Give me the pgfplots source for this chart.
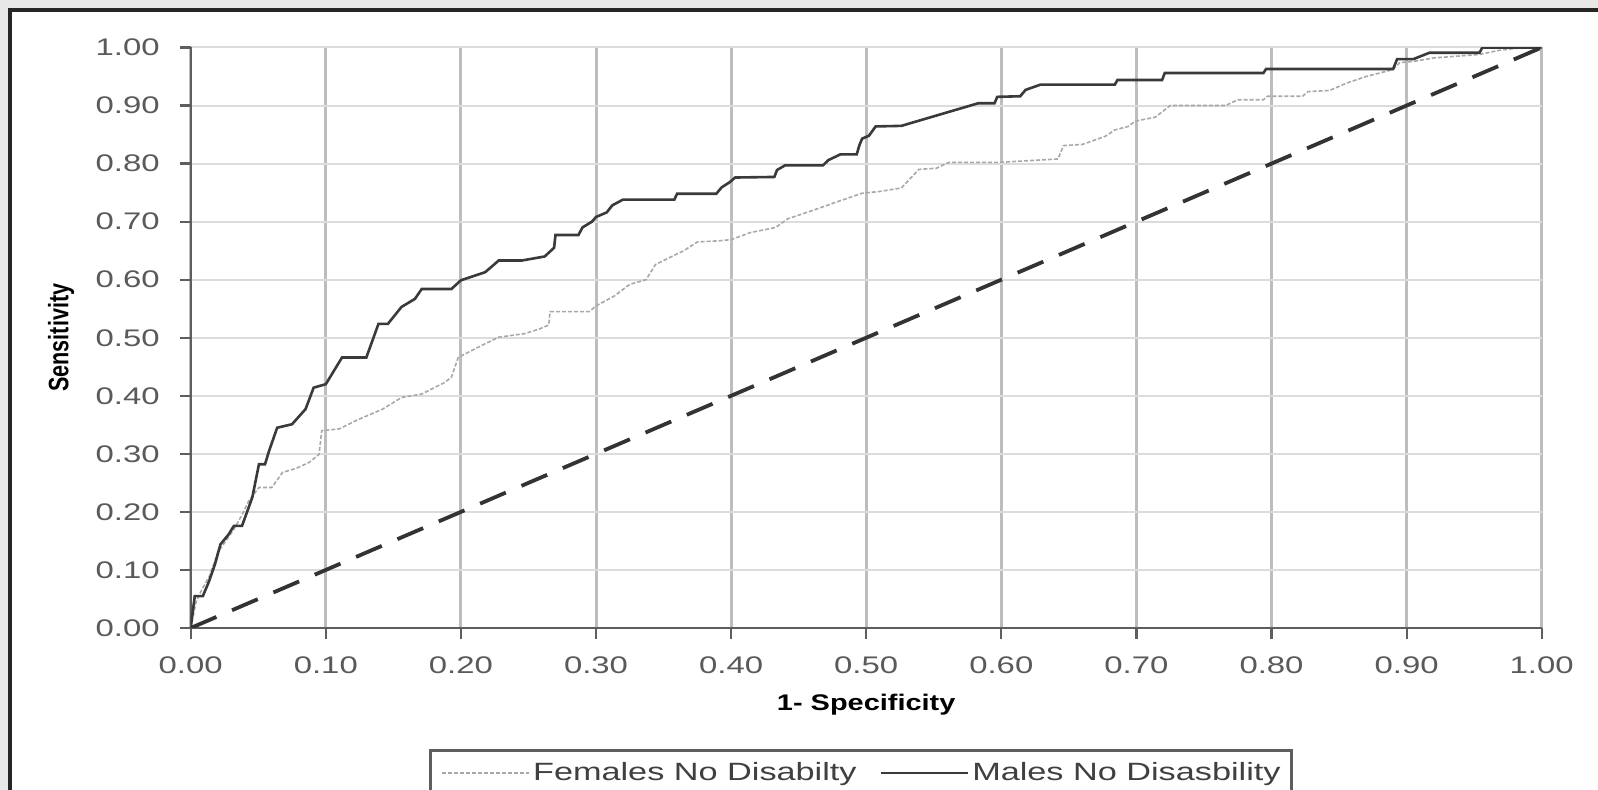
\documentclass[border=0pt]{standalone}
\usepackage{pgfplots}
\pgfplotsset{compat=1.18}
\usepackage{graphicx}
\usepackage{fontspec}
\setmainfont{Liberation Sans}
\newfontfamily\tickfont[FakeStretch=1.37]{Liberation Sans}
\newfontfamily\labelfont[FakeStretch=1.28]{Liberation Sans}
\definecolor{tickgray}{HTML}{5A5A5A}
\definecolor{axisgray}{HTML}{5E5E5E}
\definecolor{vgrid}{HTML}{BDBDBD}
\definecolor{hgrid}{HTML}{DCDCDC}
\definecolor{maleline}{HTML}{3A3A3A}
\definecolor{femline}{HTML}{A8A8A8}
\definecolor{diagline}{HTML}{333333}
\definecolor{outer}{HTML}{E8E8E8}
\begin{document}
\begin{tikzpicture}
\useasboundingbox (0,0) rectangle (799bp,395bp);
\clip (0,0) rectangle (799bp,395bp);
\fill[outer] (0,0) rectangle (799bp,395bp);
\fill[white] (5bp,-10bp) rectangle (810bp,390bp);
\draw[line width=1.7bp, black!85] (5bp,-10bp) -- (5bp,390bp) -- (810bp,390bp);
\begin{axis}[
  at={(95.35bp,81bp)}, anchor=south west,
  scale only axis, width=675.5bp, height=290.25bp,
  xmin=0, xmax=1, ymin=0, ymax=1,
  axis x line*=bottom, axis y line*=left,
  axis line style={-, axisgray, line width=1.2bp},
  xtick={0,0.1,...,1.0}, ytick={0,0.1,...,1.0},
  tick align=outside, major tick length=5.3bp,
  tick style={axisgray, line width=1.1bp},
  grid=major,
  x grid style={vgrid, line width=1.5bp},
  y grid style={hgrid, line width=1bp},
  /pgf/number format/assume math mode=true,
  /pgf/number format/.cd, fixed, fixed zerofill, precision=2, /pgfplots/.cd,
  yticklabel style={font=\tickfont\fontsize{12bp}{14bp}\selectfont, text=tickgray, anchor=east, inner sep=0pt, xshift=-10bp},
  xticklabel style={font=\tickfont\fontsize{12bp}{14bp}\selectfont, text=tickgray, anchor=north, inner sep=0pt, yshift=-9bp},
  xlabel={1- Specificity},
  xlabel style={font=\labelfont\bfseries\fontsize{11.3bp}{13bp}\selectfont, at={(axis description cs:0.5,-0.1326)}, anchor=center},
  ylabel={\scalebox{1}[1.3]{Sensitivity}},
  ylabel style={font=\bfseries\fontsize{10.8bp}{13bp}\selectfont, at={(axis description cs:-0.096,0.5)}, anchor=center},
  legend columns=2,
  legend image code/.code={\draw[#1] (0bp,0bp) -- (43.5bp,0bp);},
  legend style={at={(axis description cs:0.1766,-0.209)}, anchor=north west,
    draw=axisgray, line width=1.2bp, inner xsep=5.5bp, inner ysep=6bp,
    font=\tickfont\fontsize{12.5bp}{15bp}\selectfont, text=black!75,
    nodes={inner sep=0pt},
    /tikz/every odd column/.append style={column sep=1.5bp},
    /tikz/every even column/.append style={column sep=11.5bp}},
]
\addplot[femline, line width=0.8bp, dash pattern=on 2bp off 1bp] coordinates {
(0,0) (0.004,0.045) (0.008,0.065) (0.014,0.09) (0.02,0.13) (0.026,0.15) (0.032,0.17)
(0.038,0.195) (0.043,0.219) (0.0505,0.242) (0.06,0.242) (0.068,0.268) (0.078,0.275)
(0.0875,0.285) (0.095,0.299) (0.097,0.34) (0.110,0.343) (0.122,0.357) (0.142,0.377)
(0.156,0.397) (0.171,0.403) (0.188,0.423) (0.193,0.432) (0.198,0.466) (0.213,0.484)
(0.228,0.501) (0.247,0.507) (0.258,0.515) (0.265,0.522) (0.266,0.545) (0.295,0.545)
(0.300,0.555) (0.313,0.571) (0.325,0.592) (0.337,0.600) (0.344,0.626) (0.357,0.641)
(0.365,0.650) (0.375,0.665) (0.391,0.667) (0.400,0.669) (0.414,0.681) (0.433,0.690)
(0.442,0.705) (0.460,0.719) (0.477,0.733) (0.497,0.749) (0.510,0.752) (0.526,0.758)
(0.539,0.790) (0.552,0.792) (0.561,0.802) (0.598,0.802) (0.642,0.808) (0.646,0.831)
(0.660,0.833) (0.677,0.847) (0.684,0.858) (0.694,0.864) (0.699,0.873) (0.714,0.880)
(0.725,0.900) (0.766,0.900) (0.775,0.910) (0.794,0.910) (0.797,0.916) (0.823,0.916)
(0.827,0.924) (0.843,0.926) (0.856,0.939) (0.870,0.950) (0.880,0.956) (0.890,0.962)
(0.895,0.974) (0.905,0.976) (0.920,0.982) (0.954,0.988) (0.968,0.995) (0.983,0.999) (1,1)
};
\addlegendentry{Females No Disabilty}
\addplot[maleline, line width=1.3bp] coordinates {
(0,0) (0.003,0.055) (0.009,0.055) (0.0135,0.08) (0.018,0.11) (0.022,0.144) (0.028,0.161)
(0.032,0.176) (0.038,0.176) (0.0456,0.225) (0.0505,0.282) (0.055,0.282) (0.058,0.305)
(0.064,0.345) (0.075,0.351) (0.085,0.377) (0.091,0.414) (0.1,0.42) (0.112,0.466)
(0.130,0.466) (0.139,0.524) (0.146,0.524) (0.156,0.553) (0.166,0.567) (0.171,0.584)
(0.193,0.584) (0.2,0.599) (0.218,0.613) (0.228,0.633) (0.245,0.633) (0.262,0.640)
(0.269,0.655) (0.270,0.677) (0.287,0.677) (0.290,0.690) (0.297,0.700) (0.300,0.708)
(0.308,0.716) (0.312,0.728) (0.320,0.738) (0.358,0.738) (0.360,0.748) (0.389,0.748)
(0.393,0.759) (0.399,0.768) (0.403,0.776) (0.432,0.777) (0.434,0.789) (0.440,0.797)
(0.468,0.797) (0.472,0.806) (0.481,0.816) (0.493,0.816) (0.495,0.832) (0.497,0.843)
(0.502,0.848) (0.507,0.864) (0.526,0.865) (0.583,0.904) (0.595,0.904) (0.597,0.915)
(0.614,0.916) (0.618,0.927) (0.629,0.936) (0.684,0.936) (0.686,0.944) (0.719,0.944)
(0.721,0.956) (0.794,0.956) (0.796,0.963) (0.890,0.963) (0.893,0.980) (0.905,0.980)
(0.917,0.991) (0.954,0.991) (0.956,1.0) (1.0,1.0)
};
\addlegendentry{Males No Disasbility}
\addplot[diagline, line width=1.9bp, dash pattern=on 14bp off 8.5bp, forget plot] coordinates {(0,0) (1,1)};
\end{axis}
\end{tikzpicture}
\end{document}
